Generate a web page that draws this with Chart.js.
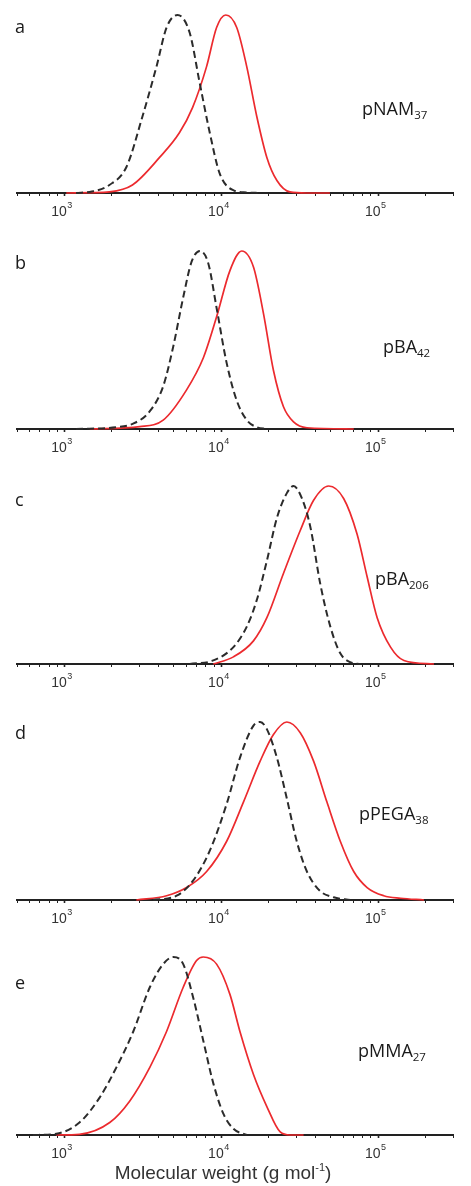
<!DOCTYPE html>
<html>
<head>
<meta charset="utf-8">
<script src="https://cdn.jsdelivr.net/npm/chart.js@4/dist/chart.umd.min.js"></script>
<style>
  html, body { margin: 0; padding: 0; background: #fff; }
  body { width: 471px; height: 1186px; position: relative; overflow: hidden; }
  .panel { position: absolute; left: 0; width: 471px; }
  .panel canvas { position: absolute; left: 0; top: 0; }
  .lab { position: absolute; font-family: "Open Sans", "Liberation Sans", sans-serif; font-size: 18px; color: #1a1a1a; line-height: 20px; white-space: nowrap; }
  .lab sub { font-size: 11.5px; vertical-align: -4px; line-height: 0; }
  .xtitle { position: absolute; left: 0; width: 446px; text-align: center; top: 1161px; font-family: "Liberation Sans", Arial, sans-serif; font-size: 19px; color: #333; line-height: 24px; }
  .xtitle sup { font-size: 11px; vertical-align: 8px; line-height: 0; }
</style>
</head>
<body>
<script>
// ---- Data (molecular weight in g/mol, normalised intensity) ----
const tickValues = [500,600,700,800,900,1000,2000,3000,4000,5000,6000,7000,8000,9000,
  10000,20000,30000,40000,50000,60000,70000,80000,90000,100000,200000,300000];
const majorTicks = [1000, 10000, 100000];
const majorBase = ['10', '10', '10'];
const majorExp = ['3', '4', '5'];

// panel a : pNAM37
const aRedM = [1030, 1500, 1940, 2720, 4050, 5430, 6570, 8070, 9350, 10700, 12560, 14550, 16860, 19540, 22650, 27400, 35000, 49300];
const aRedI = [0, 0.002, 0.006, 0.045, 0.20, 0.34, 0.48, 0.71, 0.93, 1.0, 0.93, 0.71, 0.43, 0.20, 0.07, 0.006, 0, 0];
const aBlkM = [1190, 1500, 1940, 2490, 3150, 3870, 4490, 5270, 6300, 7290, 8450, 9780, 11840, 14550, 17630];
const aBlkI = [0, 0.008, 0.045, 0.146, 0.43, 0.71, 0.93, 1.0, 0.90, 0.62, 0.34, 0.11, 0.017, 0.003, 0];

// panel b : pBA42
const bRedM = [1450, 3030, 4270, 6020, 7700, 9350, 11370, 13520, 16060, 18590, 21520, 24940, 28900, 35200, 70000];
const bRedI = [0, 0.013, 0.05, 0.22, 0.40, 0.63, 0.89, 1.0, 0.91, 0.65, 0.33, 0.125, 0.04, 0.007, 0];
const bBlkM = [1190, 2150, 2750, 3510, 4270, 4940, 5730, 6480, 7320, 8280, 9350, 10840, 12560, 14560, 16880, 19550];
const bBlkI = [0, 0.01, 0.03, 0.10, 0.24, 0.46, 0.74, 0.94, 1.0, 0.93, 0.68, 0.37, 0.16, 0.05, 0.01, 0];

// panel c : pBA206
const cRedM = [8910, 11970, 16060, 19550, 24960, 31900, 38800, 48400, 60300, 73400, 85100, 98600, 120000, 146000, 227000];
const cRedI = [0, 0.04, 0.13, 0.26, 0.51, 0.75, 0.92, 1.0, 0.93, 0.73, 0.49, 0.26, 0.095, 0.02, 0];
const cBlkM = [6320, 8910, 11970, 14560, 16870, 19550, 22640, 26200, 28900, 32700, 37000, 42800, 49600, 57400, 66500, 77100];
const cBlkI = [0, 0.02, 0.095, 0.21, 0.36, 0.58, 0.82, 0.96, 1.0, 0.93, 0.77, 0.45, 0.21, 0.06, 0.01, 0];

// panel d : pPEGA38
const dRedM = [2880, 4490, 6020, 8080, 10840, 13860, 17710, 21530, 26200, 31900, 38800, 47200, 57400, 69900, 85100, 108600, 139000, 196000];
const dRedI = [0, 0.024, 0.07, 0.16, 0.33, 0.55, 0.78, 0.93, 1.0, 0.94, 0.78, 0.55, 0.33, 0.16, 0.07, 0.024, 0.01, 0];
const dBlkM = [3690, 5200, 6640, 8490, 10840, 13180, 16060, 17710, 19540, 22640, 26200, 30300, 35170, 42770, 52100, 66500];
const dBlkI = [0, 0.024, 0.11, 0.28, 0.54, 0.80, 0.98, 1.0, 0.96, 0.80, 0.57, 0.33, 0.16, 0.05, 0.015, 0];

// panel e : pMMA27
const eRedM = [889, 1250, 1950, 2610, 3510, 4480, 5730, 6970, 7690, 9350, 11370, 13180, 16060, 19540, 23770, 27500, 33500];
const eRedI = [0, 0.004, 0.07, 0.19, 0.38, 0.58, 0.83, 0.98, 1.0, 0.96, 0.79, 0.58, 0.34, 0.16, 0.017, 0, 0];
const eBlkM = [631, 890, 1250, 1680, 2150, 2750, 3510, 4270, 4940, 5730, 6640, 7690, 8910, 10320, 11970, 14560];
const eBlkI = [0, 0.007, 0.07, 0.21, 0.38, 0.58, 0.83, 0.96, 1.0, 0.96, 0.77, 0.53, 0.29, 0.12, 0.035, 0];

const panelLetters = ['a', 'b', 'c', 'd', 'e'];
const polymerNames = ['pNAM', 'pBA', 'pBA', 'pPEGA', 'pMMA'];
const polymerSubs = ['37', '42', '206', '38', '27'];
const xTitleMain = 'Molecular weight (g mol';
const xTitleSup = '-1';

// ---- Layout ----
const panels = [
  {top: 0,   h: 236, red: [aRedM, aRedI], blk: [aBlkM, aBlkI], letterY: 16, nameX: 362, nameY: 98},
  {top: 236, h: 236, red: [bRedM, bRedI], blk: [bBlkM, bBlkI], letterY: 16, nameX: 383, nameY: 100},
  {top: 471, h: 236, red: [cRedM, cRedI], blk: [cBlkM, cBlkI], letterY: 18, nameX: 375, nameY: 97},
  {top: 707, h: 236, red: [dRedM, dRedI], blk: [dBlkM, dBlkI], letterY: 15, nameX: 359, nameY: 96},
  {top: 942, h: 244, red: [eRedM, eRedI], blk: [eBlkM, eBlkI], letterY: 30, nameX: 358, nameY: 98}
];

const toXY = (m, v) => m.map((x, i) => ({x: x, y: v[i]}));

// draws "10" with a raised exponent under each decade tick
const expLabels = {
  id: 'expLabels',
  afterDraw(chart) {
    const s = chart.scales.x;
    const ctx = chart.ctx;
    ctx.save();
    ctx.fillStyle = '#333';
    ctx.textBaseline = 'alphabetic';
    ctx.textAlign = 'left';
    majorTicks.forEach((v, i) => {
      const x = s.getPixelForValue(v);
      ctx.font = '14px "Liberation Sans", Arial, sans-serif';
      const w = ctx.measureText(majorBase[i]).width;
      ctx.fillText(majorBase[i], x - w + 2.5, s.top + 23);
      ctx.font = '9px "Liberation Sans", Arial, sans-serif';
      ctx.fillText(majorExp[i], x + 3, s.top + 15);
    });
    ctx.restore();
  }
};

panels.forEach((p, k) => {
  const div = document.createElement('div');
  div.className = 'panel';
  div.style.top = p.top + 'px';
  div.style.height = p.h + 'px';
  const cv = document.createElement('canvas');
  cv.width = 471; cv.height = p.h;
  cv.style.width = '471px'; cv.style.height = p.h + 'px';
  div.appendChild(cv);

  const l1 = document.createElement('div');
  l1.className = 'lab';
  l1.style.left = '15px'; l1.style.top = p.letterY + 'px';
  l1.textContent = panelLetters[k];
  div.appendChild(l1);

  const l2 = document.createElement('div');
  l2.className = 'lab';
  l2.style.left = p.nameX + 'px'; l2.style.top = p.nameY + 'px';
  l2.innerHTML = polymerNames[k] + '<sub>' + polymerSubs[k] + '</sub>';
  div.appendChild(l2);

  document.body.appendChild(div);

  const axisH = p.h - 15 - 178;
  new Chart(cv.getContext('2d'), {
    type: 'line',
    data: {
      datasets: [
        {data: toXY(p.blk[0], p.blk[1]), borderColor: '#2b2b2b', borderWidth: 2, borderDash: [7, 4],
         pointRadius: 0, cubicInterpolationMode: 'monotone', fill: false, clip: false},
        {data: toXY(p.red[0], p.red[1]), borderColor: '#ec2a2e', borderWidth: 1.7,
         pointRadius: 0, cubicInterpolationMode: 'monotone', fill: false, clip: false}
      ]
    },
    options: {
      responsive: false,
      animation: false,
      devicePixelRatio: 1,
      layout: {padding: {top: 15, left: 17, right: 18, bottom: 0}},
      plugins: {legend: {display: false}, tooltip: {enabled: false}},
      scales: {
        x: {
          type: 'logarithmic',
          min: 500, max: 300000,
          afterBuildTicks: (s) => { s.ticks = tickValues.map(v => ({value: v, major: majorTicks.includes(v)})); },
          afterFit: (s) => { s.height = axisH; },
          ticks: {
            autoSkip: false, maxRotation: 0, minRotation: 0, padding: 6,
            color: '#333',
            font: {family: '"Liberation Sans", Arial, sans-serif', size: 14},
            callback: () => ''
          },
          grid: {display: true, drawOnChartArea: false, drawTicks: true, tickLength: 3,
                 tickColor: '#222', tickWidth: (c) => (c.tick && majorTicks.includes(c.tick.value)) ? 1.6 : 1},
          border: {display: true, color: '#222', width: 2}
        },
        y: {display: false, min: 0, max: 1}
      }
    },
    plugins: [expLabels]
  });
});

const xt = document.createElement('div');
xt.className = 'xtitle';
xt.innerHTML = xTitleMain + '<sup>' + xTitleSup + '</sup>)';
document.body.appendChild(xt);
</script>
</body>
</html>
